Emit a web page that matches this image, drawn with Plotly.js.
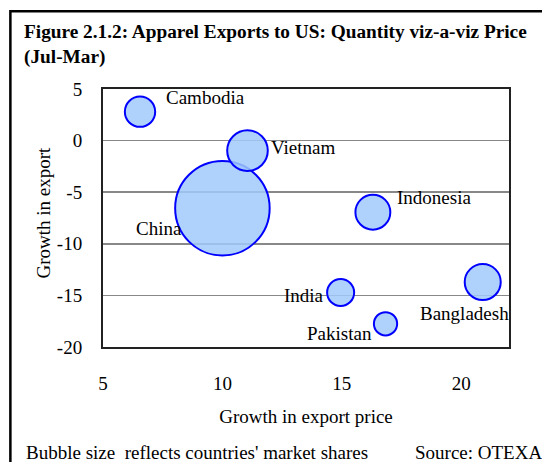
<!DOCTYPE html>
<html><head><meta charset="utf-8">
<script src="https://cdn.plot.ly/plotly-3.0.1.min.js"></script>
<style>html,body{margin:0;padding:0;background:#fff}#chart{width:542px;height:462px}</style>
</head><body><div id="chart"></div>
<script>
// ---- data ----
const countries = ["China", "Vietnam", "Indonesia", "Bangladesh", "India", "Cambodia", "Pakistan"];
const priceGrowth = [10.0, 11.05, 16.3, 20.9, 14.95, 6.55, 16.83];
const exportGrowth = [-6.55, -0.97, -6.94, -13.71, -14.72, 2.8, -17.75];
const marketShare = [33, 6.1, 4.5, 4.8, 2.7, 3.4, 2.0];
const xTicks = [5, 10, 15, 20];
const yTicks = [-20, -15, -10, -5, 0, 5];
const yTickLabels = ["-20", "-15", "-10", "-5", "0", "5"];

// ---- layout helpers ----
const W = 542, H = 462;
const M = {l: 102.5, r: 32.7, t: 89, b: 114.7};
const px = v => (v - M.l) / (W - M.l - M.r);
const py = v => 1 - (v - M.t) / (H - M.t - M.b);
const FONT = "Liberation Serif, Times New Roman, serif";

// label placement (pixel offsets from bubble centre)
const labelPlace = {
  China: {xa: "right", dx: -38.7, dy: -20.7},
  Vietnam: {xa: "left", dx: 21.3, dy: 2.7},
  Indonesia: {xa: "left", dx: 21.7, dy: 14.6},
  Bangladesh: {xa: "left", dx: -64.7, dy: -31},
  India: {xa: "right", dx: -15, dy: -3},
  Cambodia: {xa: "left", dx: 24, dy: 14.7},
  Pakistan: {xa: "right", dx: -12, dy: -9.3}
};

const maxShare = Math.max(...marketShare);
const maxDiam = 94.5;

const trace = {
  type: "scatter", mode: "markers",
  x: priceGrowth, y: exportGrowth, text: countries,
  hoverinfo: "text",
  marker: {
    size: marketShare, sizemode: "area",
    sizeref: 2 * maxShare / (maxDiam * maxDiam),
    opacity: 1,
    color: "rgba(160,202,250,0.85)",
    line: {color: "#0000ff", width: 2}
  }
};

const annotations = countries.map((c, i) => ({
  x: priceGrowth[i], y: exportGrowth[i], xref: "x", yref: "y",
  text: c, showarrow: false,
  xanchor: labelPlace[c].xa, yanchor: "middle",
  xshift: labelPlace[c].dx, yshift: labelPlace[c].dy,
  font: {family: FONT, size: 19, color: "#000"}
}));

annotations.push({
  xref: "paper", yref: "paper", x: px(43), y: py(213),
  xanchor: "center", yanchor: "middle", showarrow: false, textangle: -90,
  text: "Growth in export",
  font: {family: FONT, size: 19, color: "#000"}
});
annotations.push({
  xref: "paper", yref: "paper", x: px(23), y: py(453),
  xanchor: "left", yanchor: "middle", showarrow: false,
  text: "Bubble size  reflects countries' market shares",
  font: {family: FONT, size: 19, color: "#000"}
});
annotations.push({
  xref: "paper", yref: "paper", x: px(413), y: py(453),
  xanchor: "left", yanchor: "middle", showarrow: false,
  text: "Source: OTEXA",
  font: {family: FONT, size: 19, color: "#000"}
});

const layout = {
  width: W, height: H,
  margin: M,
  paper_bgcolor: "#fff", plot_bgcolor: "#fff",
  showlegend: false,
  title: {
    text: "Figure 2.1.2: Apparel Exports to US: Quantity viz-a-viz Price<br>(Jul-Mar)",
    xref: "container", yref: "container",
    x: 24 / W, xanchor: "left",
    y: 1 - 38 / H, yanchor: "top",
    font: {family: FONT, size: 19.3, color: "#000", weight: "bold"}
  },
  xaxis: {
    range: [5, 22], tickvals: xTicks, showgrid: false, zeroline: false,
    showline: true, mirror: true, linecolor: "#222", linewidth: 2,
    ticks: "", ticklabelstandoff: 18,
    tickfont: {family: FONT, size: 19, color: "#000"},
    title: {text: "Growth in export price", standoff: 17,
            font: {family: FONT, size: 19, color: "#000"}},
    fixedrange: true
  },
  yaxis: {
    range: [-20, 5], tickvals: yTicks, ticktext: yTickLabels,
    showgrid: true, gridcolor: "#888", gridwidth: 1.5,
    zeroline: false,
    showline: true, mirror: true, linecolor: "#222", linewidth: 2,
    ticks: "", ticklabelstandoff: 15,
    tickfont: {family: FONT, size: 19, color: "#000"},
    fixedrange: true
  },
  annotations: annotations,
  shapes: [{
    type: "rect", xref: "paper", yref: "paper",
    x0: px(9.7), x1: px(560), y0: py(480), y1: py(11.2),
    line: {color: "#000", width: 2.5}, fillcolor: "rgba(0,0,0,0)", layer: "above"
  }]
};

Plotly.newPlot("chart", [trace], layout, {staticPlot: true, displayModeBar: false});
</script>
</body></html>
